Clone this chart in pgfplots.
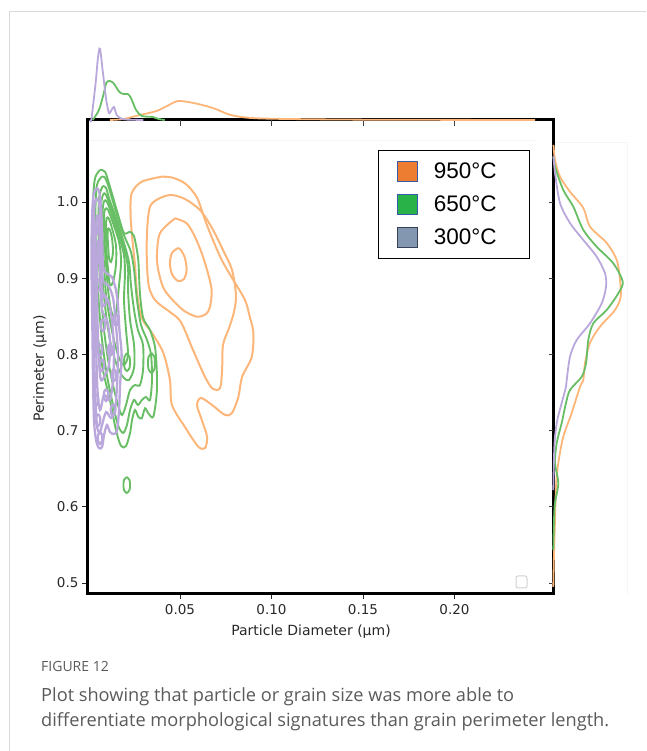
\documentclass[border=0pt]{standalone}
\usepackage{fontspec}
\usepackage{pgfplots}
\pgfplotsset{compat=1.18}
\newfontfamily\dejavu{DejaVu Sans}
\newfontfamily\arial{Liberation Sans}
\newfontfamily\capfont{Open Sans}
\definecolor{corange}{RGB}{252,182,122}
\definecolor{cgreen}{RGB}{104,190,100}
\definecolor{cpurple}{RGB}{186,168,220}
\definecolor{tickgray}{RGB}{40,40,40}
\definecolor{capgray}{RGB}{90,90,90}
\definecolor{lorange}{RGB}{237,125,49}
\definecolor{lgreen}{RGB}{40,178,72}
\definecolor{lslate}{RGB}{132,151,176}
\definecolor{lblue}{RGB}{55,90,170}
\definecolor{ldark}{RGB}{55,65,85}
\begin{document}
\begin{tikzpicture}[x=1pt,y=1pt]
\path[use as bounding box] (0,0) rectangle (646,751);
\draw[gray!30, line width=1pt] (9,0) -- (9,739) -- (646,739);
\draw[gray!8, line width=0.8pt] (88,611) -- (535,611);
\draw[gray!8, line width=0.8pt] (553,609) -- (627,609) -- (627,157);
\begin{axis}[
  at={(87pt,157pt)}, anchor=south west, scale only axis,
  width=466pt, height=474pt,
  xmin=-0.00082, xmax=0.25383, ymin=0.48556, ymax=1.10761,
  axis line style={black, line width=3pt},
  xtick={0.05,0.10,0.15,0.20}, xticklabels={0.05,0.10,0.15,0.20},
  ytick={0.5,0.6,0.7,0.8,0.9,1.0}, yticklabels={0.5,0.6,0.7,0.8,0.9,1.0},
  xtick pos=left, ytick pos=left, tick align=outside,
  major tick length=5pt,
  tick style={tickgray, line width=0.8pt},
  tick label style={font=\dejavu\fontsize{13.5}{16}\selectfont, text=tickgray},
  xticklabel style={yshift=-1.5pt},
  xlabel={Particle Diameter (µm)}, ylabel={Perimeter (µm)},
  label style={font=\dejavu\fontsize{14}{17}\selectfont, text=tickgray},
  xlabel style={at={(axis description cs:0.4807,-0.0802)}, anchor=center},
  ylabel style={at={(axis description cs:-0.1009,0.4757)}, anchor=center},
  legend image code/.code={\draw[#1, line width=1.2pt] (0pt,-10pt) rectangle (20pt,10pt);},
  legend cell align=left,
  legend style={at={(axis cs:0.1582,1.0682)}, anchor=north west, draw=black, line width=1.3pt, fill=white,
    inner xsep=18pt, inner ysep=10pt, row sep=12pt,
    font=\arial\fontsize{22.5}{27}\selectfont,
    nodes={inner sep=0pt},
    /tikz/every odd column/.append style={column sep=16pt}},
  oc/.style={corange, line width=2pt, smooth, forget plot},
  gc/.style={cgreen, line width=1.9pt, smooth, forget plot},
  pc/.style={cpurple, line width=2.3pt, smooth, forget plot},
]
% 950 C contours
\addplot[oc] coordinates {(0.0400,1.0332) (0.0291,1.0266) (0.0236,1.0114) (0.0230,0.9829) (0.0240,0.9501) (0.0254,0.9173) (0.0265,0.8806) (0.0291,0.8478) (0.0347,0.8281) (0.0409,0.8018) (0.0445,0.7664) (0.0456,0.7336) (0.0527,0.7047) (0.0600,0.6789) (0.0637,0.6772) (0.0648,0.6920) (0.0619,0.7139) (0.0593,0.7336) (0.0615,0.7428) (0.0675,0.7336) (0.0746,0.7205) (0.0784,0.7231) (0.0819,0.7441) (0.0839,0.7703) (0.0892,0.7966) (0.0901,0.8281) (0.0883,0.8478) (0.0855,0.8714) (0.0791,0.8976) (0.0728,0.9239) (0.0673,0.9541) (0.0637,0.9764) (0.0591,1.0066) (0.0527,1.0245) (0.0456,1.0321) (0.0400,1.0332)};
\addplot[oc] coordinates {(0.0409,1.0070) (0.0336,0.9938) (0.0318,0.9458) (0.0327,0.8933) (0.0363,0.8714) (0.0445,0.8556) (0.0505,0.8425) (0.0571,0.8058) (0.0637,0.7703) (0.0680,0.7546) (0.0719,0.7559) (0.0730,0.7795) (0.0735,0.8123) (0.0768,0.8346) (0.0795,0.8556) (0.0806,0.8780) (0.0784,0.9108) (0.0735,0.9370) (0.0675,0.9659) (0.0609,0.9895) (0.0527,1.0039) (0.0456,1.0092) (0.0409,1.0070)};
\addplot[oc] coordinates {(0.0473,0.9786) (0.0391,0.9593) (0.0374,0.9304) (0.0381,0.9108) (0.0407,0.8885) (0.0445,0.8753) (0.0516,0.8583) (0.0591,0.8495) (0.0642,0.8530) (0.0664,0.8626) (0.0673,0.8845) (0.0648,0.9108) (0.0619,0.9327) (0.0582,0.9541) (0.0537,0.9720) (0.0473,0.9786)};
\addplot[oc] coordinates {(0.0489,0.9396) (0.0456,0.9331) (0.0445,0.9199) (0.0456,0.9055) (0.0489,0.8963) (0.0522,0.8990) (0.0536,0.9108) (0.0527,0.9265) (0.0505,0.9370) (0.0489,0.9396)};
% 650 C contours
\addplot[gc] coordinates {(0.0063,1.0420) (0.0036,1.0315) (0.0025,1.0026) (0.0025,0.9501) (0.0030,0.8845) (0.0046,0.8320) (0.0079,0.7795) (0.0117,0.7402) (0.0150,0.7008) (0.0178,0.6798) (0.0205,0.6798) (0.0227,0.6969) (0.0238,0.7139) (0.0254,0.7270) (0.0272,0.7182) (0.0291,0.7161) (0.0309,0.7293) (0.0327,0.7227) (0.0354,0.7182) (0.0373,0.7490) (0.0373,0.7795) (0.0363,0.8101) (0.0336,0.8320) (0.0299,0.8478) (0.0281,0.8802) (0.0272,0.9239) (0.0254,0.9501) (0.0245,0.9567) (0.0227,0.9610) (0.0209,0.9589) (0.0190,0.9610) (0.0154,0.9895) (0.0117,1.0201) (0.0090,1.0398) (0.0063,1.0420)};
\addplot[gc] coordinates {(0.0071,1.0328) (0.0046,1.0223) (0.0038,0.9895) (0.0041,0.9370) (0.0052,0.8845) (0.0068,0.8320) (0.0096,0.7795) (0.0128,0.7402) (0.0161,0.7073) (0.0189,0.6969) (0.0210,0.7073) (0.0227,0.7270) (0.0249,0.7402) (0.0270,0.7336) (0.0292,0.7402) (0.0314,0.7441) (0.0336,0.7402) (0.0347,0.7664) (0.0342,0.7992) (0.0320,0.8189) (0.0287,0.8386) (0.0265,0.8714) (0.0249,0.9108) (0.0232,0.9344) (0.0205,0.9501) (0.0178,0.9659) (0.0139,0.9961) (0.0107,1.0223) (0.0087,1.0328) (0.0071,1.0328)};
\addplot[gc] coordinates {(0.0079,1.0210) (0.0068,1.0157) (0.0057,1.0026) (0.0055,0.9698) (0.0057,0.9239) (0.0068,0.8780) (0.0085,0.8320) (0.0107,0.7927) (0.0134,0.7598) (0.0161,0.7336) (0.0183,0.7205) (0.0205,0.7336) (0.0227,0.7533) (0.0254,0.7598) (0.0281,0.7598) (0.0298,0.7795) (0.0298,0.8123) (0.0270,0.8320) (0.0249,0.8583) (0.0232,0.8911) (0.0221,0.9213) (0.0189,0.9501) (0.0150,0.9790) (0.0112,1.0052) (0.0096,1.0184) (0.0079,1.0210)};
\addplot[gc] coordinates {(0.0085,1.0118) (0.0077,1.0079) (0.0068,0.9961) (0.0066,0.9698) (0.0068,0.9304) (0.0079,0.8911) (0.0096,0.8517) (0.0117,0.8189) (0.0145,0.7927) (0.0172,0.7769) (0.0194,0.7690) (0.0221,0.7664) (0.0249,0.7822) (0.0249,0.8123) (0.0227,0.8451) (0.0216,0.8845) (0.0216,0.9134) (0.0194,0.9396) (0.0156,0.9698) (0.0117,0.9961) (0.0096,1.0092) (0.0085,1.0118)};
\addplot[gc] coordinates {(0.0090,1.0026) (0.0082,0.9987) (0.0077,0.9869) (0.0077,0.9567) (0.0085,0.9173) (0.0096,0.8780) (0.0117,0.8451) (0.0139,0.8189) (0.0167,0.7953) (0.0194,0.7861) (0.0216,0.7992) (0.0205,0.8320) (0.0194,0.8714) (0.0199,0.9042) (0.0194,0.9304) (0.0161,0.9593) (0.0123,0.9869) (0.0101,1.0000) (0.0090,1.0026)};
\addplot[gc] coordinates {(0.0096,0.9921) (0.0087,0.9882) (0.0085,0.9764) (0.0087,0.9501) (0.0096,0.9173) (0.0107,0.8845) (0.0123,0.8583) (0.0145,0.8478) (0.0156,0.8648) (0.0167,0.8911) (0.0178,0.9213) (0.0167,0.9475) (0.0128,0.9764) (0.0107,0.9895) (0.0096,0.9921)};
\addplot[gc] coordinates {(0.0101,0.9803) (0.0096,0.9738) (0.0096,0.9606) (0.0098,0.9370) (0.0107,0.9108) (0.0117,0.8911) (0.0134,0.8950) (0.0150,0.9173) (0.0150,0.9436) (0.0128,0.9659) (0.0112,0.9777) (0.0101,0.9803)};
\addplot[gc] coordinates {(0.0107,0.9659) (0.0104,0.9567) (0.0107,0.9436) (0.0112,0.9265) (0.0123,0.9213) (0.0134,0.9344) (0.0128,0.9528) (0.0117,0.9633) (0.0107,0.9659)};
\addplot[gc] coordinates {(0.0344,0.8018) (0.0328,0.7966) (0.0325,0.7887) (0.0328,0.7808) (0.0344,0.7756) (0.0361,0.7808) (0.0363,0.7887) (0.0361,0.7966) (0.0344,0.8018)};
\addplot[gc] coordinates {(0.0210,0.8018) (0.0197,0.7966) (0.0194,0.7900) (0.0197,0.7822) (0.0210,0.7782) (0.0224,0.7822) (0.0227,0.7900) (0.0224,0.7966) (0.0210,0.8018)};
\addplot[gc] coordinates {(0.0209,0.6391) (0.0194,0.6352) (0.0191,0.6286) (0.0194,0.6220) (0.0209,0.6181) (0.0224,0.6220) (0.0227,0.6286) (0.0224,0.6352) (0.0209,0.6391)};
% 300 C contours
\addplot[pc] coordinates {(0.0045,1.0184) (0.0027,1.0092) (0.0019,0.9764) (0.0016,0.9239) (0.0019,0.8714) (0.0022,0.8189) (0.0025,0.7664) (0.0030,0.7139) (0.0041,0.6877) (0.0057,0.6772) (0.0074,0.6785) (0.0085,0.6942) (0.0101,0.7073) (0.0117,0.6982) (0.0139,0.6955) (0.0156,0.7008) (0.0167,0.7270) (0.0172,0.7572) (0.0181,0.7992) (0.0169,0.8320) (0.0161,0.8648) (0.0150,0.8845) (0.0128,0.9016) (0.0096,0.9068) (0.0079,0.9173) (0.0074,0.9633) (0.0066,1.0026) (0.0055,1.0157) (0.0045,1.0184)};
\addplot[pc] coordinates {(0.0046,1.0052) (0.0033,0.9961) (0.0027,0.9501) (0.0027,0.8845) (0.0030,0.8189) (0.0036,0.7533) (0.0046,0.7073) (0.0060,0.6969) (0.0074,0.7073) (0.0096,0.7244) (0.0123,0.7165) (0.0145,0.7270) (0.0156,0.7598) (0.0161,0.7992) (0.0150,0.8386) (0.0134,0.8740) (0.0107,0.8911) (0.0079,0.8976) (0.0068,0.9370) (0.0063,0.9829) (0.0057,1.0000) (0.0046,1.0052)};
\addplot[pc] coordinates {(0.0046,0.9829) (0.0038,0.9501) (0.0038,0.8845) (0.0041,0.8189) (0.0049,0.7533) (0.0063,0.7270) (0.0085,0.7467) (0.0117,0.7402) (0.0134,0.7664) (0.0139,0.8058) (0.0128,0.8451) (0.0107,0.8714) (0.0079,0.8780) (0.0066,0.9108) (0.0060,0.9567) (0.0055,0.9790) (0.0046,0.9829)};
\addplot[pc] coordinates {(0.0052,0.9501) (0.0046,0.9108) (0.0049,0.8451) (0.0057,0.7927) (0.0068,0.7664) (0.0090,0.7730) (0.0112,0.7861) (0.0117,0.8189) (0.0101,0.8451) (0.0074,0.8583) (0.0066,0.8976) (0.0060,0.9370) (0.0052,0.9501)};
\addplot[pc] coordinates {(0.0079,0.8465) (0.0068,0.8425) (0.0068,0.8347) (0.0079,0.8307) (0.0090,0.8347) (0.0090,0.8425) (0.0079,0.8465)};
\addplot[pc] coordinates {(0.0117,0.8137) (0.0106,0.8097) (0.0106,0.8019) (0.0117,0.7979) (0.0128,0.8019) (0.0128,0.8097) (0.0117,0.8137)};
\addplot[pc] coordinates {(0.0096,0.7546) (0.0085,0.7506) (0.0085,0.7428) (0.0096,0.7388) (0.0107,0.7428) (0.0107,0.7506) (0.0096,0.7546)};
\addplot[pc] coordinates {(0.0063,0.8137) (0.0052,0.8097) (0.0052,0.8019) (0.0063,0.7979) (0.0074,0.8019) (0.0074,0.8097) (0.0063,0.8137)};
\addplot[pc] coordinates {(0.0041,0.9318) (0.0030,0.9278) (0.0030,0.9200) (0.0041,0.9160) (0.0052,0.9200) (0.0052,0.9278) (0.0041,0.9318)};
\addplot[pc] coordinates {(0.0134,0.7349) (0.0123,0.7309) (0.0123,0.7231) (0.0134,0.7191) (0.0145,0.7231) (0.0145,0.7309) (0.0134,0.7349)};
\addplot[pc] coordinates {(0.0052,0.7218) (0.0041,0.7178) (0.0041,0.7100) (0.0052,0.7060) (0.0063,0.7100) (0.0063,0.7178) (0.0052,0.7218)};
\addplot[pc] coordinates {(0.0085,0.8793) (0.0074,0.8753) (0.0074,0.8675) (0.0085,0.8635) (0.0096,0.8675) (0.0096,0.8753) (0.0085,0.8793)};
\addplot[pc] coordinates {(0.0036,0.9712) (0.0025,0.9672) (0.0025,0.9594) (0.0036,0.9554) (0.0047,0.9594) (0.0047,0.9672) (0.0036,0.9712)};
\addplot[pc] coordinates {(0.0036,0.8662) (0.0025,0.8622) (0.0025,0.8544) (0.0036,0.8504) (0.0047,0.8544) (0.0047,0.8622) (0.0036,0.8662)};
\addplot[pc] coordinates {(0.0139,0.7809) (0.0128,0.7769) (0.0128,0.7691) (0.0139,0.7651) (0.0150,0.7691) (0.0150,0.7769) (0.0139,0.7809)};
\addplot[pc] coordinates {(0.0074,0.7940) (0.0063,0.7900) (0.0063,0.7822) (0.0074,0.7782) (0.0085,0.7822) (0.0085,0.7900) (0.0074,0.7940)};
\addplot[pc] coordinates {(0.0041,0.7481) (0.0030,0.7441) (0.0030,0.7363) (0.0041,0.7323) (0.0052,0.7363) (0.0052,0.7441) (0.0041,0.7481)};
\addplot[pc] coordinates {(0.0150,0.8530) (0.0139,0.8490) (0.0139,0.8412) (0.0150,0.8372) (0.0161,0.8412) (0.0161,0.8490) (0.0150,0.8530)};
\addplot[pc] coordinates {(0.0063,0.6982) (0.0052,0.6942) (0.0052,0.6864) (0.0063,0.6824) (0.0074,0.6864) (0.0074,0.6942) (0.0063,0.6982)};
\addplot[pc] coordinates {(0.0052,0.8990) (0.0041,0.8950) (0.0041,0.8872) (0.0052,0.8832) (0.0063,0.8872) (0.0063,0.8950) (0.0052,0.8990)};
\addlegendimage{fill=lorange, draw=lblue}
\addlegendentry{950°C\hspace*{15pt}}
\addlegendimage{fill=lgreen, draw=lblue}
\addlegendentry{650°C\hspace*{15pt}}
\addlegendimage{fill=lslate, draw=ldark}
\addlegendentry{300°C\hspace*{15pt}}
\end{axis}
% top marginal
\begin{axis}[
  at={(87pt,631pt)}, anchor=south west, scale only axis,
  width=466pt, height=80pt,
  xmin=-0.00082, xmax=0.25383, ymin=0, ymax=80,
  axis line style={draw=none},
  xtick={0.05,0.10,0.15,0.20}, xticklabels={}, xtick pos=left,
  ytick=\empty, tick align=outside, major tick length=6pt,
  tick style={black!75, line width=0.8pt}, clip=false,
]
\addplot[corange, line width=1.8pt, smooth] coordinates {(0.0117,0) (0.0192,1) (0.0281,5) (0.0372,9) (0.0440,15) (0.0489,19) (0.0574,17) (0.0680,12) (0.0777,5) (0.0888,2) (0.1090,1) (0.1540,0.3) (0.2440,0)};
\addplot[cgreen, line width=1.8pt, smooth] coordinates {(0.0023,0) (0.0057,10) (0.0084,27) (0.0097,37) (0.0113,39) (0.0136,37) (0.0169,28) (0.0192,26) (0.0214,26) (0.0232,22) (0.0260,10) (0.0292,4) (0.0350,3) (0.0383,1) (0.0417,0)};
\addplot[cpurple, line width=1.8pt, smooth] coordinates {(0.0010,0) (0.0016,1) (0.0039,37) (0.0052,63) (0.0063,71) (0.0079,47) (0.0097,20) (0.0112,7) (0.0126,10) (0.0139,13) (0.0154,5) (0.0174,2) (0.0200,0.5) (0.0300,0)};
\end{axis}
% right marginal
\begin{axis}[
  at={(553pt,157pt)}, anchor=south west, scale only axis,
  width=80pt, height=474pt,
  xmin=0, xmax=80, ymin=0.48556, ymax=1.10761,
  axis line style={draw=none},
  ytick={0.5,0.6,0.7,0.8,0.9,1.0}, yticklabels={}, ytick pos=left,
  xtick=\empty, tick align=outside, major tick length=4pt,
  tick style={black!75, line width=0.8pt}, clip=false,
]
\addplot[corange, line width=1.8pt, smooth] coordinates {(0.5,1.075) (2,1.0551) (7,1.0332) (17,1.0135) (30.3,0.9921) (37,0.9676) (53.7,0.9462) (63.7,0.9239) (67,0.8976) (67.7,0.8757) (62,0.8583) (47,0.8364) (37,0.8150) (32,0.7887) (30.3,0.7664) (27,0.7576) (18.7,0.7231) (10.3,0.6920) (5.3,0.6575) (3,0.6264) (2,0.5827) (1,0.5394) (0.3,0.4948)};
\addplot[cgreen, line width=1.8pt, smooth] coordinates {(0.5,1.06) (2,1.0463) (10.3,1.0157) (20.3,0.9938) (30.3,0.9633) (43.7,0.9413) (60.3,0.9195) (69.7,0.8954) (65.3,0.8802) (53.7,0.8583) (40.3,0.8408) (35.3,0.8189) (33,0.7883) (28.7,0.7707) (17,0.7533) (13,0.7362) (8.7,0.7100) (3.7,0.6837) (2,0.6575) (5.3,0.6312) (2,0.6050) (1,0.5827) (0.3,0.5433)};
\addplot[cpurple, line width=1.8pt, smooth] coordinates {(0.5,1.06) (2,1.0381) (7,0.9987) (17,0.9724) (30.3,0.9501) (43.7,0.9282) (52,0.9064) (53,0.8888) (48.7,0.8671) (37,0.8408) (23.7,0.8189) (17,0.7970) (13.7,0.7664) (13,0.7576) (8.7,0.7362) (4.3,0.7139) (2,0.6920) (1,0.6658) (0.3,0.6220)};
\end{axis}
\draw[gray!35, line width=1pt, rounded corners=2pt, fill=white] (516,163) rectangle (527,175);
\node[anchor=base west, inner sep=0pt, text=capgray, font=\capfont\fontsize{14}{17}\selectfont] at (41,79.3) {FIGURE 12};
\node[anchor=base west, inner sep=0pt, text=capgray, font=\capfont\fontsize{18.2}{22}\selectfont] at (41,49.3) {Plot showing that particle or grain size was more able to};
\node[anchor=base west, inner sep=0pt, text=capgray, font=\capfont\fontsize{18.2}{22}\selectfont] at (41,24) {differentiate morphological signatures than grain perimeter length.};
\end{tikzpicture}
\end{document}
